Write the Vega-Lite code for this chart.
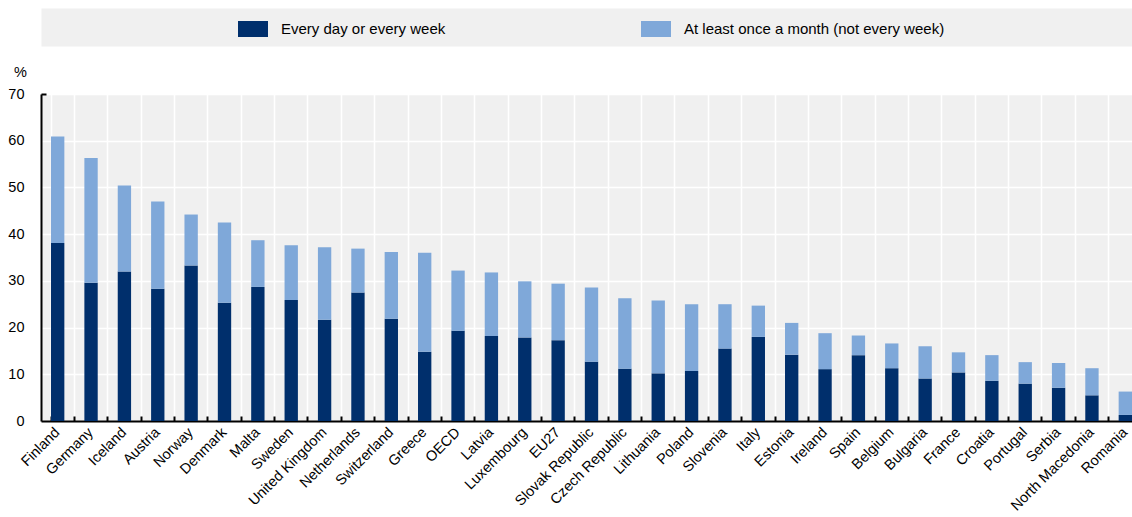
{
  "$schema": "https://vega.github.io/schema/vega-lite/v6.json",
  "width": 1091,
  "height": 327,
  "autosize": {"type": "none"},
  "padding": {"left": 41, "top": 94, "right": 0, "bottom": 96},
  "background": "white",
  "config": {
    "font": "Liberation Sans",
    "view": {"fill": "#f0f0f0", "stroke": null}
  },
  "data": {
    "values": [
      {"country": "Finland", "series": "Every day or every week", "value": 38.1},
      {"country": "Finland", "series": "At least once a month (not every week)", "value": 22.8},
      {"country": "Germany", "series": "Every day or every week", "value": 29.6},
      {"country": "Germany", "series": "At least once a month (not every week)", "value": 26.7},
      {"country": "Iceland", "series": "Every day or every week", "value": 32.0},
      {"country": "Iceland", "series": "At least once a month (not every week)", "value": 18.4},
      {"country": "Austria", "series": "Every day or every week", "value": 28.3},
      {"country": "Austria", "series": "At least once a month (not every week)", "value": 18.7},
      {"country": "Norway", "series": "Every day or every week", "value": 33.3},
      {"country": "Norway", "series": "At least once a month (not every week)", "value": 10.9},
      {"country": "Denmark", "series": "Every day or every week", "value": 25.3},
      {"country": "Denmark", "series": "At least once a month (not every week)", "value": 17.2},
      {"country": "Malta", "series": "Every day or every week", "value": 28.7},
      {"country": "Malta", "series": "At least once a month (not every week)", "value": 10.0},
      {"country": "Sweden", "series": "Every day or every week", "value": 25.9},
      {"country": "Sweden", "series": "At least once a month (not every week)", "value": 11.7},
      {"country": "United Kingdom", "series": "Every day or every week", "value": 21.7},
      {"country": "United Kingdom", "series": "At least once a month (not every week)", "value": 15.5},
      {"country": "Netherlands", "series": "Every day or every week", "value": 27.5},
      {"country": "Netherlands", "series": "At least once a month (not every week)", "value": 9.4},
      {"country": "Switzerland", "series": "Every day or every week", "value": 21.9},
      {"country": "Switzerland", "series": "At least once a month (not every week)", "value": 14.3},
      {"country": "Greece", "series": "Every day or every week", "value": 14.8},
      {"country": "Greece", "series": "At least once a month (not every week)", "value": 21.2},
      {"country": "OECD", "series": "Every day or every week", "value": 19.3},
      {"country": "OECD", "series": "At least once a month (not every week)", "value": 12.9},
      {"country": "Latvia", "series": "Every day or every week", "value": 18.2},
      {"country": "Latvia", "series": "At least once a month (not every week)", "value": 13.6},
      {"country": "Luxembourg", "series": "Every day or every week", "value": 17.9},
      {"country": "Luxembourg", "series": "At least once a month (not every week)", "value": 12.0},
      {"country": "EU27", "series": "Every day or every week", "value": 17.3},
      {"country": "EU27", "series": "At least once a month (not every week)", "value": 12.1},
      {"country": "Slovak Republic", "series": "Every day or every week", "value": 12.7},
      {"country": "Slovak Republic", "series": "At least once a month (not every week)", "value": 15.9},
      {"country": "Czech Republic", "series": "Every day or every week", "value": 11.2},
      {"country": "Czech Republic", "series": "At least once a month (not every week)", "value": 15.1},
      {"country": "Lithuania", "series": "Every day or every week", "value": 10.2},
      {"country": "Lithuania", "series": "At least once a month (not every week)", "value": 15.6},
      {"country": "Poland", "series": "Every day or every week", "value": 10.7},
      {"country": "Poland", "series": "At least once a month (not every week)", "value": 14.3},
      {"country": "Slovenia", "series": "Every day or every week", "value": 15.5},
      {"country": "Slovenia", "series": "At least once a month (not every week)", "value": 9.5},
      {"country": "Italy", "series": "Every day or every week", "value": 18.0},
      {"country": "Italy", "series": "At least once a month (not every week)", "value": 6.7},
      {"country": "Estonia", "series": "Every day or every week", "value": 14.2},
      {"country": "Estonia", "series": "At least once a month (not every week)", "value": 6.8},
      {"country": "Ireland", "series": "Every day or every week", "value": 11.1},
      {"country": "Ireland", "series": "At least once a month (not every week)", "value": 7.7},
      {"country": "Spain", "series": "Every day or every week", "value": 14.1},
      {"country": "Spain", "series": "At least once a month (not every week)", "value": 4.2},
      {"country": "Belgium", "series": "Every day or every week", "value": 11.3},
      {"country": "Belgium", "series": "At least once a month (not every week)", "value": 5.3},
      {"country": "Bulgaria", "series": "Every day or every week", "value": 9.1},
      {"country": "Bulgaria", "series": "At least once a month (not every week)", "value": 6.9},
      {"country": "France", "series": "Every day or every week", "value": 10.4},
      {"country": "France", "series": "At least once a month (not every week)", "value": 4.3},
      {"country": "Croatia", "series": "Every day or every week", "value": 8.6},
      {"country": "Croatia", "series": "At least once a month (not every week)", "value": 5.5},
      {"country": "Portugal", "series": "Every day or every week", "value": 8.0},
      {"country": "Portugal", "series": "At least once a month (not every week)", "value": 4.6},
      {"country": "Serbia", "series": "Every day or every week", "value": 7.1},
      {"country": "Serbia", "series": "At least once a month (not every week)", "value": 5.3},
      {"country": "North Macedonia", "series": "Every day or every week", "value": 5.5},
      {"country": "North Macedonia", "series": "At least once a month (not every week)", "value": 5.8},
      {"country": "Romania", "series": "Every day or every week", "value": 1.3},
      {"country": "Romania", "series": "At least once a month (not every week)", "value": 5.0}
    ]
  },
  "layer": [
    {
      "mark": {"type": "bar"},
      "encoding": {
        "x": {
          "field": "country",
          "type": "nominal",
          "sort": null,
          "scale": {"range": [0, 1101], "paddingInner": 0.6, "paddingOuter": 0.3},
          "axis": {
            "orient": "bottom",
            "title": null,
            "bandPosition": 1.75,
            "tickExtra": true,
            "grid": true,
            "gridColor": "white",
            "gridWidth": 1.5,
            "domainColor": "black",
            "domainWidth": 2,
            "tickColor": "black",
            "tickWidth": 2,
            "tickSize": -5,
            "labelAngle": -45,
            "labelAlign": "right",
            "labelBaseline": "middle",
            "labelFontSize": 14.5,
            "labelColor": "black",
            "labelPadding": 14,
            "labelLimit": 300
          }
        },
        "y": {
          "field": "value",
          "type": "quantitative",
          "stack": "zero",
          "scale": {"domain": [0, 70]},
          "axis": {
            "values": [0, 10, 20, 30, 40, 50, 60, 70],
            "grid": true,
            "gridColor": "white",
            "gridWidth": 1.5,
            "domainColor": "black",
            "domainWidth": 2,
            "tickColor": "black",
            "tickWidth": 2,
            "tickSize": -5,
            "tickOpacity": {"condition": {"test": "datum.value === 70", "value": 1}, "value": 0},
            "labelFontSize": 14.5,
            "labelColor": "black",
            "labelPadding": 22,
            "title": "%",
            "titleAngle": 0,
            "titleX": -21,
            "titleY": -18,
            "titleAlign": "center",
            "titleBaseline": "alphabetic",
            "titleFontWeight": "normal",
            "titleFontSize": 14.5,
            "titleColor": "black"
          }
        },
        "color": {
          "field": "series",
          "type": "nominal",
          "scale": {
            "domain": ["Every day or every week", "At least once a month (not every week)"],
            "range": ["#002F6C", "#7FA8D9"]
          },
          "legend": {
            "orient": "none",
            "legendX": 197,
            "legendY": -80,
            "direction": "horizontal",
            "title": null,
            "padding": 0,
            "symbolType": "M-1,-0.5333H1V0.5333H-1Z",
            "symbolSize": 900,
            "symbolStrokeWidth": 0,
            "symbolOpacity": 1,
            "labelOffset": 13,
            "labelFontSize": 15,
            "labelColor": "black",
            "labelLimit": 400,
            "columnPadding": 195
          }
        },
        "order": {"field": "series", "sort": "descending"}
      }
    },
    {
      "mark": {"type": "tick", "opacity": 0},
      "encoding": {
        "x": {
          "field": "country",
          "type": "nominal",
          "sort": null,
          "axis": {
            "orient": "top",
            "offset": 67,
            "title": null,
            "labels": false,
            "ticks": false,
            "grid": false,
            "domainColor": "#f0f0f0",
            "domainWidth": 38
          }
        }
      }
    }
  ],
  "resolve": {"axis": {"x": "independent"}}
}
